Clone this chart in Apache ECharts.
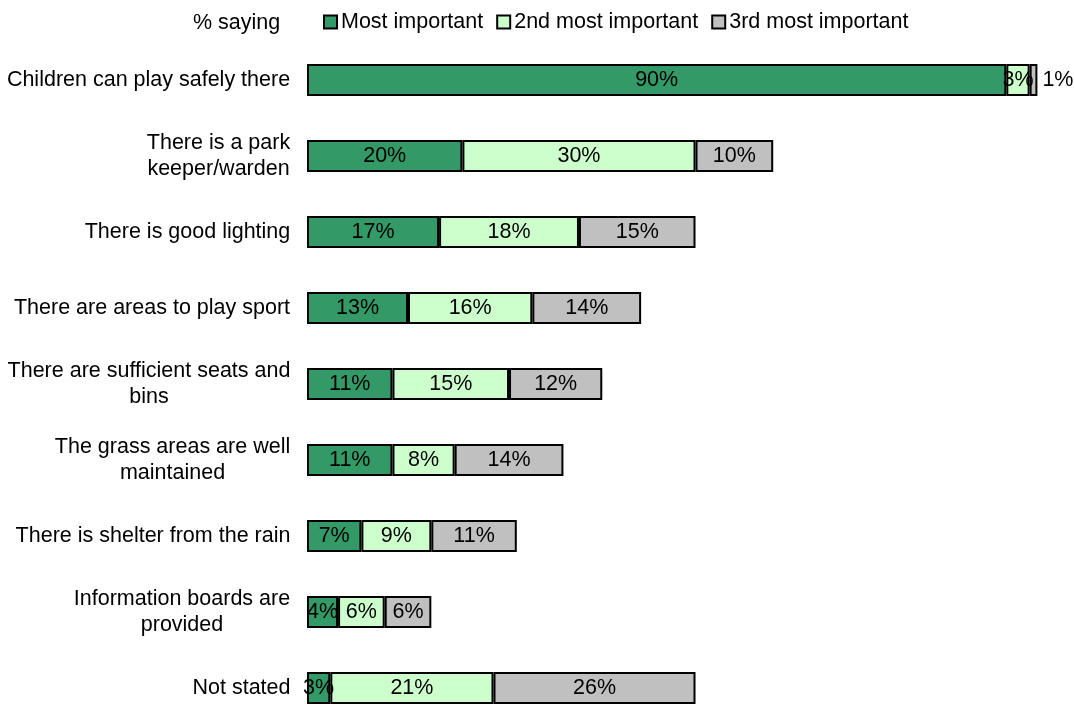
<!DOCTYPE html>
<html>
<head>
<meta charset="utf-8">
<style>
  html, body { margin: 0; padding: 0; background: #fff; overflow: hidden; }
  #chart { width: 1074px; height: 760px; }
</style>
<script src="https://cdn.jsdelivr.net/npm/echarts@6/dist/echarts.min.js"></script>
</head>
<body>
<div id="chart"></div>
<script>
// Reasons people give for feeling safe in a park (% saying)
const categories = [
  'Children can play safely there',
  'There is a park\nkeeper/warden',
  'There is good lighting',
  'There are areas to play sport',
  'There are sufficient seats and\nbins',
  'The grass areas are well\nmaintained',
  'There is shelter from the rain',
  'Information boards are\nprovided',
  'Not stated'
];
const seriesNames = ['Most important', '2nd most important', '3rd most important'];
const mostImportant = [90, 20, 17, 13, 11, 11, 7, 4, 3];
const secondImportant = [3, 30, 18, 16, 15, 8, 9, 6, 21];
const thirdImportant = [1, 10, 15, 14, 12, 14, 11, 6, 26];

const FONT = 'Liberation Sans, Arial, sans-serif';
const FS = 21.5;
const colors = ['#339966', '#CCFFCC', '#C0C0C0'];

// Multi-line category labels: block right-aligned, lines centred within it
const ctx = document.createElement('canvas').getContext('2d');
ctx.font = FS + 'px ' + FONT;
const rich = {};
categories.forEach((c, i) => {
  const w = Math.max(...c.split('\n').map(l => ctx.measureText(l).width));
  rich['c' + i] = { width: Math.ceil(w) + 1, align: 'center', fontSize: FS, fontFamily: FONT, color: '#000', lineHeight: 26 };
});

const chart = echarts.init(document.getElementById('chart'));

function makeSeries(idx, data) {
  return {
    name: seriesNames[idx],
    type: 'bar',
    stack: 'total',
    barWidth: 32,
    data: data.map((v, i) => {
      const d = { value: v };
      // the tiny last segment of the first row is labelled outside the bar
      if (idx === 2 && i === 0) d.label = { position: 'right', distance: 5 };
      return d;
    }),
    itemStyle: { color: colors[idx], borderColor: '#000', borderWidth: 2 },
    label: {
      show: true,
      position: 'inside',
      formatter: p => p.value + '%',
      color: '#000',
      fontSize: FS,
      fontFamily: FONT
    },
    emphasis: { disabled: true }
  };
}

chart.setOption({
  animation: false,
  title: {
    text: '% saying',
    left: 188,
    top: 7,
    textStyle: { fontSize: FS, fontWeight: 'normal', fontFamily: FONT, color: '#000' }
  },
  legend: {
    left: 318,
    top: 6,
    itemWidth: 13,
    itemHeight: 13,
    itemGap: 13,
    icon: 'rect',
    itemStyle: { borderColor: '#000', borderWidth: 2 },
    textStyle: { fontSize: FS, fontFamily: FONT, color: '#000', padding: [0, 0, 0, -1] },
    data: seriesNames
  },
  grid: { left: 307, top: 42, width: 730.4, height: 684, containLabel: false },
  xAxis: {
    type: 'value',
    min: 0,
    max: 94,
    show: false
  },
  yAxis: {
    type: 'category',
    inverse: true,
    data: categories,
    axisLine: { show: false },
    axisTick: { show: false },
    axisLabel: {
      margin: 16,
      align: 'right',
      formatter: (val, i) => val.split('\n').map(l => '{c' + i + '|' + l + '}').join('\n'),
      rich: rich
    }
  },
  series: [
    makeSeries(0, mostImportant),
    makeSeries(1, secondImportant),
    makeSeries(2, thirdImportant)
  ]
});
</script>
</body>
</html>
